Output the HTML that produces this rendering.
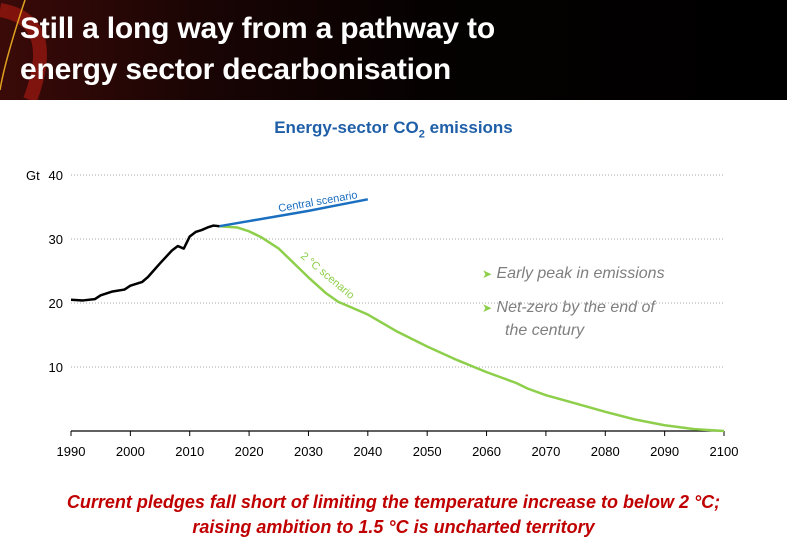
<!DOCTYPE html>
<html><head><meta charset="utf-8"><style>
body{margin:0;width:787px;height:549px;background:#fff;overflow:hidden;font-family:"Liberation Sans",sans-serif;position:relative}
#hdr{position:absolute;left:0;top:0;width:787px;height:100px;background:linear-gradient(90deg,#3a0a08 0%,#1a0504 25%,#050101 55%,#000 100%)}
#hdr h1{position:absolute;left:20px;top:8px;margin:0;color:#fff;font-size:30px;line-height:41px;font-weight:bold;letter-spacing:-0.2px}
#title{position:absolute;left:0;width:787px;top:118px;text-align:center;color:#1f5fa8;font-weight:bold;font-size:17px}
#foot{position:absolute;left:0;width:787px;top:490px;text-align:center;color:#c00000;font-weight:bold;font-style:italic;font-size:18px;line-height:25px}
svg{position:absolute;left:0;top:0}
</style></head><body>
<div id="hdr">
<svg width="120" height="100"><path d="M0 10 Q60 20 30 100" stroke="#a01810" stroke-width="14" fill="none" opacity="0.7"/><path d="M25 0 Q5 60 0 90" stroke="#e0a020" stroke-width="1.5" fill="none"/></svg>
<h1>Still a long way from a pathway to<br>energy sector decarbonisation</h1></div>
<div id="title">Energy-sector CO<sub style="font-size:11px">2</sub> emissions</div>
<svg id="chart" width="787" height="549"></svg>
<div id="foot">Current pledges fall short of limiting the temperature increase to below 2 °C;<br>raising ambition to 1.5 °C is uncharted territory</div>
<script>
const histYears=[1990,1992,1994,1995,1997,1999,2000,2002,2003,2005,2007,2008,2009,2010,2011,2012,2013,2014,2015];
const histVals=[20.5,20.4,20.6,21.2,21.8,22.1,22.7,23.3,24.1,26.2,28.2,28.9,28.5,30.4,31.1,31.4,31.8,32.1,32.0];
const centralYears=[2015,2020,2025,2030,2035,2040];
const centralVals=[32,32.8,33.6,34.4,35.3,36.2];
const twoYears=[2015,2018,2020,2022,2025,2028,2030,2033,2035,2040,2045,2050,2055,2060,2065,2067,2070,2075,2080,2085,2090,2095,2100];
const twoVals=[32,31.8,31.2,30.3,28.5,25.8,24,21.5,20.2,18.2,15.5,13.2,11.1,9.2,7.5,6.6,5.6,4.3,3.0,1.8,0.9,0.3,0];
const xTicks=[1990,2000,2010,2020,2030,2040,2050,2060,2070,2080,2090,2100];
const yTicks=[10,20,30,40];
const X=y=>71+(y-1990)*(724-71)/110;
const Y=v=>431-v*6.4;
const svg=document.getElementById('chart');
const NS='http://www.w3.org/2000/svg';
function mk(t,a,name){const e=document.createElementNS(NS,t);for(const k in a)e.setAttribute(k,a[k]);


svg.appendChild(e);return e;}
yTicks.forEach(v=>{mk('line',{x1:71,x2:724,y1:Y(v),y2:Y(v),stroke:'#aaa','stroke-dasharray':'1,2'},'gridline');
const t=mk('text',{x:63,y:Y(v)+5,'text-anchor':'end','font-size':13,fill:'#000'},'y-tick-label');t.textContent=v;});
const gt=mk('text',{x:26,y:Y(40)+5,'font-size':13},'y-axis-unit');gt.textContent='Gt';
mk('line',{x1:71,x2:724,y1:431,y2:431,stroke:'#000','stroke-width':1.2},'x-axis');
xTicks.forEach(v=>{mk('line',{x1:X(v),x2:X(v),y1:431,y2:436,stroke:'#000'},'x-tick');
const t=mk('text',{x:X(v),y:456,'text-anchor':'middle','font-size':13},'x-tick-label');t.textContent=v;});
function line(ys,vs,c,name){mk('polyline',{points:ys.map((y,i)=>X(y)+','+Y(vs[i])).join(' '),fill:'none',stroke:c,'stroke-width':2.5,'stroke-linejoin':'round'},name);}
line(twoYears,twoVals,'#8dcf4a','series-2c-scenario');
line(centralYears,centralVals,'#1a6fc0','series-central-scenario');
line(histYears,histVals,'#000','series-historical');
let t=mk('text',{x:279,y:212,'font-size':11,fill:'#1a6fc0',transform:'rotate(-10 279 212)'},'central-scenario-label');t.textContent='Central scenario';
t=mk('text',{x:300,y:257,'font-size':11,fill:'#8dcf4a',transform:'rotate(40 300 257)'},'2c-scenario-label');t.textContent='2 °C scenario';
t=mk('text',{x:482,y:278,'font-size':16,fill:'#7f7f7f','font-style':'italic'},'bullet-early-peak');t.innerHTML='<tspan fill="#8dcf4a" font-style="normal" font-size="12">➤</tspan>  Early peak in emissions';
t=mk('text',{x:482,y:312,'font-size':16,fill:'#7f7f7f','font-style':'italic'},'bullet-net-zero');t.innerHTML='<tspan fill="#8dcf4a" font-style="normal" font-size="12">➤</tspan>  Net-zero by the end of';
t=mk('text',{x:505,y:335,'font-size':16,fill:'#7f7f7f','font-style':'italic'},'bullet-net-zero-2');t.textContent='the century';
</script>
</body></html>
